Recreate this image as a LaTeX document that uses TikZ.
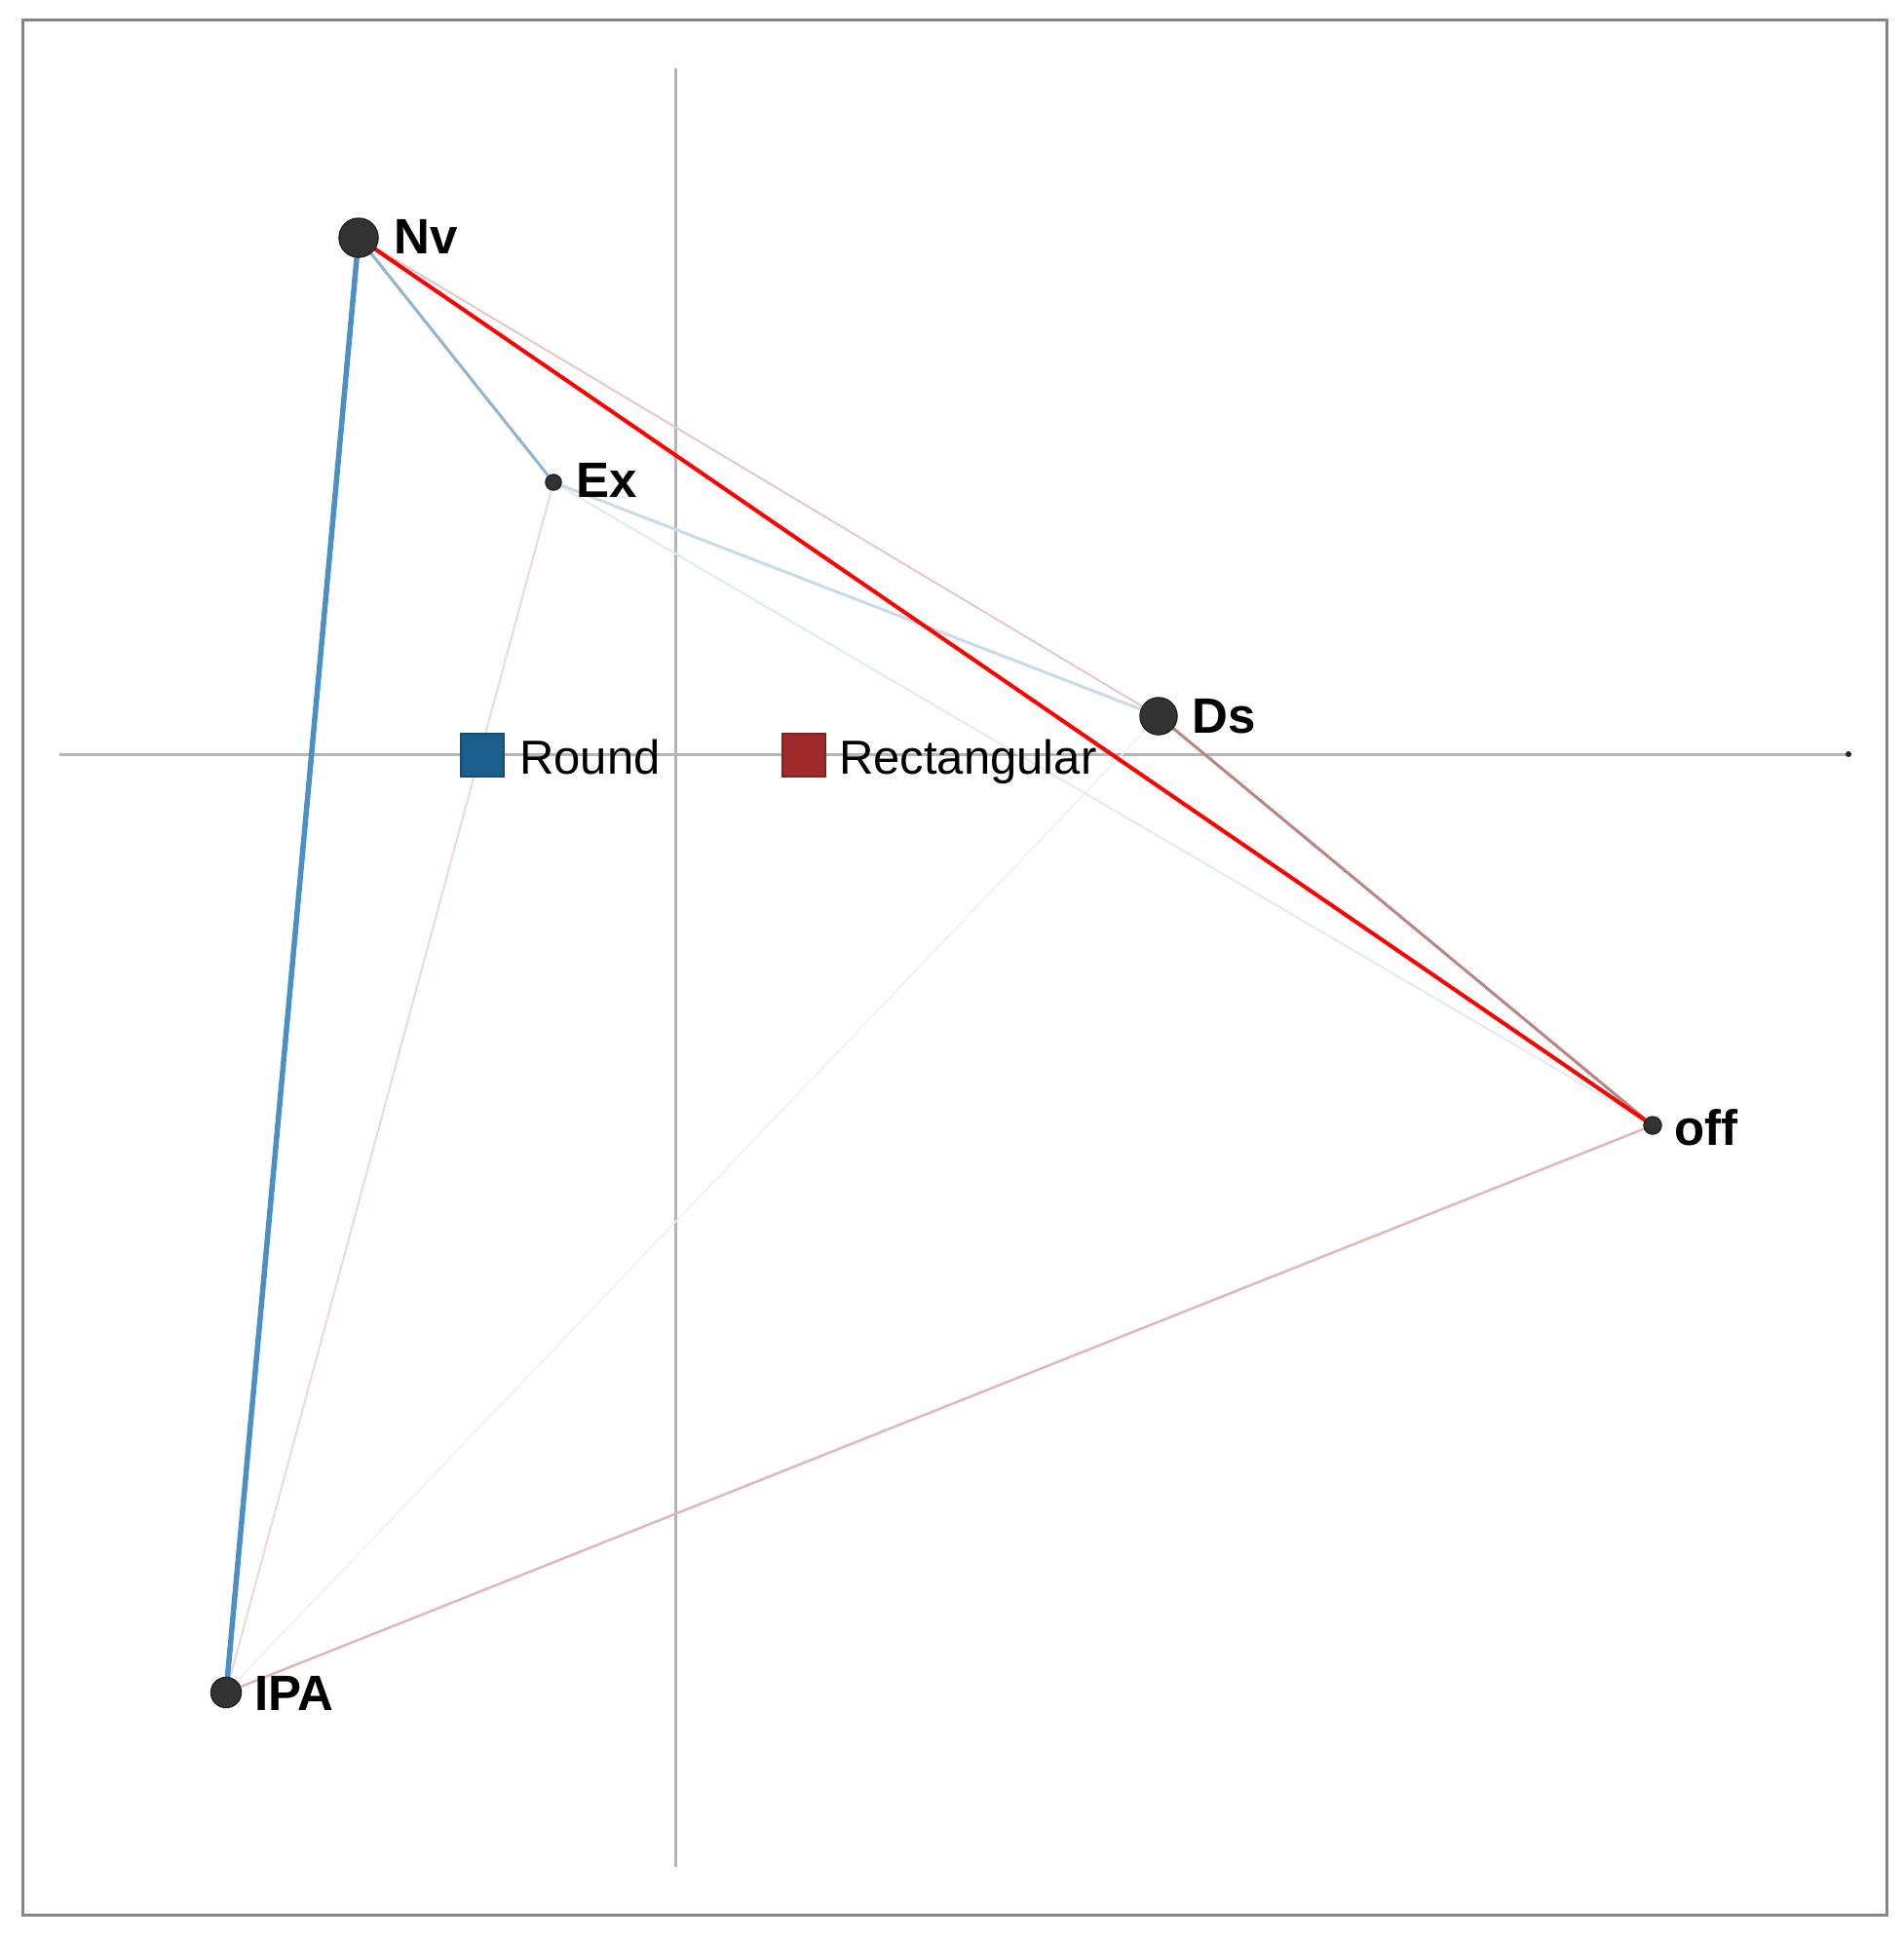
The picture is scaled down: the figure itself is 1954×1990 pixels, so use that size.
\documentclass[tikz,border=0pt]{standalone}
\usepackage{fontspec}
\setmainfont{Liberation Sans}
\definecolor{dotc}{HTML}{333333}
\definecolor{dotd}{HTML}{222222}
\definecolor{axisc}{HTML}{B5B5B5}
\definecolor{framec}{HTML}{858585}
\definecolor{blueE}{HTML}{4A90C2}
\definecolor{blueM}{HTML}{92B4CC}
\definecolor{blueL}{HTML}{C8DBE6}
\definecolor{blueXL}{HTML}{E4EBF0}
\definecolor{greyXL}{HTML}{EEF0F2}
\definecolor{pinkL}{HTML}{E6C8C8}
\definecolor{pinkXL}{HTML}{EED8D8}
\definecolor{pinkM}{HTML}{DFB8B8}
\definecolor{brownM}{HTML}{B98585}
\definecolor{legBlue}{HTML}{1B5F8F}
\definecolor{legRed}{HTML}{9E2A2A}
\begin{document}
\begin{tikzpicture}[x=1pt,y=-1pt,
  dot/.style={circle,fill=dotc,draw=dotd,line width=1.5pt,inner sep=0pt},
  lab/.style={anchor=base west,inner sep=0pt,font=\fontsize{51}{60}\selectfont\bfseries},
  legtext/.style={anchor=base west,inner sep=0pt,font=\fontsize{49}{58}\selectfont},
  legsq/.style={rectangle,inner sep=0pt,minimum size=44pt,line width=1.5pt},
  axisline/.style={draw=axisc,line width=3pt},
  edge/.style={line width=#1}]
\useasboundingbox (0,0) rectangle (1954,1990);
\fill[white] (0,0) rectangle (1954,1990);
\draw[framec,line width=3pt] (23,20) rectangle (1936,1965);
% axes
\coordinate (hl) at (61,774);
\coordinate (hr) at (1897,774);
\coordinate (vt) at (693,70);
\coordinate (vb) at (693,1916);
\draw[axisline] (hl) -- (hr);
\draw[axisline] (vt) -- (vb);
\node[circle,fill=dotd,inner sep=0pt,minimum size=6pt] (hend) at (hr) {};
% positions
\coordinate (Nv) at (368,244);
\coordinate (Ex) at (568,495);
\coordinate (Ds) at (1189,735);
\coordinate (off) at (1696,1155);
\coordinate (IPA) at (232,1737);
% edges
\draw[greyXL,edge=1.5pt] (Ds) -- (IPA);
\draw[blueXL,edge=2pt] (Ex) -- (off);
\draw[pinkXL,edge=2pt] (Ex) -- (IPA);
\draw[pinkL,edge=2pt] (Nv) -- (Ds);
\draw[blueL,edge=3pt] (Ex) -- (Ds);
\draw[pinkM,edge=2.5pt] (IPA) -- (off);
\draw[brownM,edge=3pt] (Ds) -- (off);
\draw[blueM,edge=3pt] (Nv) -- (Ex);
\draw[blueE,edge=5.5pt] (Nv) -- (IPA);
\draw[red,edge=4pt] (Nv) -- (off);
% legend
\node[legsq,fill=legBlue,draw=legBlue!80!black] (sqR) at (495,775) {};
\node[legtext] (tR) at (533,794) {Round};
\node[legsq,fill=legRed,draw=legRed!80!black] (sqRe) at (825,775) {};
\node[legtext] (tRe) at (861,794) {Rectangular};
% nodes
\node[dot,minimum size=40pt] (nNv) at (Nv) {};
\node[dot,minimum size=16pt] (nEx) at (Ex) {};
\node[dot,minimum size=38pt] (nDs) at (Ds) {};
\node[dot,minimum size=18pt] (noff) at (off) {};
\node[dot,minimum size=31pt] (nIPA) at (IPA) {};
% labels
\node[lab] (lNv) at (404,260) {Nv};
\node[lab] (lEx) at (591,510) {Ex};
\node[lab] (lDs) at (1223,752) {Ds};
\node[lab] (loff) at (1718,1175) {off};
\node[lab] (lIPA) at (261,1755) {IPA};
\end{tikzpicture}
\end{document}
